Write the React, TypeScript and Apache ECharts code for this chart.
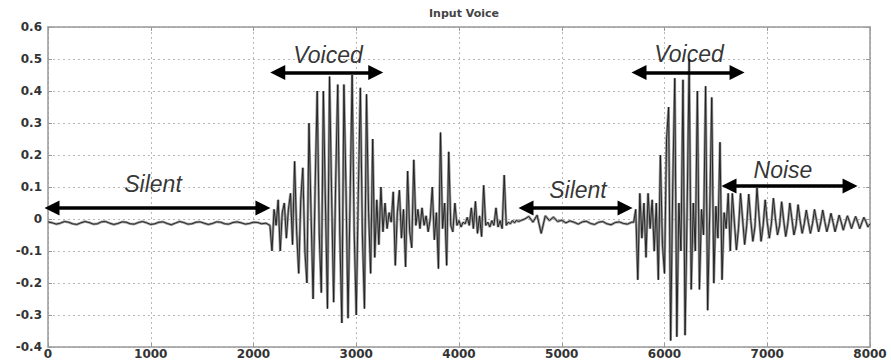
import React, { useEffect, useRef } from "react";
import * as echarts from "echarts";

// ---- Data (sample index -> amplitude) ----
// Each block: first sample index, spacing between samples, values
const SILENT_A_START = 0;
const SILENT_A_STEP = 40;
const SILENT_A = [
  -0.009, -0.012, -0.016, -0.013, -0.008, -0.010, -0.015, -0.017, -0.012, -0.008,
  -0.011, -0.016, -0.015, -0.009, -0.008, -0.013, -0.017, -0.014, -0.009, -0.010,
  -0.015, -0.016, -0.011, -0.008, -0.012, -0.017, -0.015, -0.010, -0.009, -0.014,
  -0.018, -0.013, -0.008, -0.011, -0.016, -0.015, -0.010, -0.009, -0.013, -0.017,
  -0.014, -0.009, -0.010, -0.015, -0.016, -0.011, -0.009, -0.012, -0.016, -0.014,
  -0.010, -0.011, -0.015, -0.013,
];

const VOICED_A_START = 2160;
const VOICED_A_STEP = 20;
const VOICED_A = [
  -0.02, -0.10, 0.03, -0.02, 0.06, -0.10, 0.02, 0.05, -0.06, 0.03,
  0.08, -0.08, 0.18, -0.04, -0.17, 0.06, 0.16, -0.10, -0.20, 0.30,
  0.02, -0.25, 0.10, 0.40, -0.05, -0.23, 0.40, 0.05, -0.28, 0.445,
  0.08, -0.26, 0.12, 0.42, -0.05, -0.325, 0.42, 0.10, -0.31, 0.06,
  0.45, -0.04, -0.30, 0.08, 0.41, -0.05, -0.28, 0.39, 0.02, -0.17,
  0.25, -0.12, 0.06, -0.08, 0.10, -0.04, 0.05, -0.03, 0.02, -0.01,
];

const MID_START = 3360;
const MID_STEP = 20;
const MID = [
  0.085, -0.145, 0.02, 0.09, -0.06, 0.03, -0.15, 0.15, -0.04, -0.09,
  0.185, -0.02, 0.03, -0.03, 0.035, -0.02, 0.01, -0.04, 0.0, 0.10,
  -0.065, 0.02, -0.155, 0.27, -0.03, 0.05, -0.145, 0.21, -0.02, -0.04,
  0.05, -0.02, -0.005, -0.025, -0.01, -0.015, 0.005, -0.02, 0.035, -0.03,
  0.055, -0.045, 0.01, -0.055, 0.105, -0.02, -0.01, -0.025, -0.005, -0.02,
  0.035, -0.025, -0.005, -0.03, 0.137, -0.02, -0.01, -0.015, -0.005, -0.012,
  -0.004, -0.008,
];

const SILENT_B_START = 4600;
const SILENT_B_STEP = 40;
const SILENT_B = [
  -0.005, 0.0, 0.008, -0.01, 0.012, -0.045, 0.01, -0.005, 0.006, -0.008,
  -0.004, -0.012, -0.006, -0.010, -0.016, -0.009, -0.007, -0.014, -0.017, -0.010,
  -0.008, -0.015, -0.018, -0.011, -0.009, -0.014, -0.016, -0.010,
];

const VOICED_B_START = 5700;
const VOICED_B_STEP = 20;
const VOICED_B = [
  -0.01, 0.03, -0.19, 0.08, -0.06, 0.05, -0.12, 0.08, -0.03, 0.06,
  -0.10, 0.05, -0.19, 0.20, -0.08, -0.17, 0.25, 0.35, -0.38, 0.10,
  0.44, -0.368, 0.05, -0.10, 0.435, -0.363, 0.02, 0.50, -0.22, 0.05,
  -0.10, 0.40, -0.22, 0.03, -0.05, 0.415, -0.285, 0.02, 0.38, -0.20,
  0.04, -0.06, 0.24, -0.19, 0.02, -0.03, 0.08, -0.10,
];

const NOISE_START = 6660;
const NOISE_STEP = 20;
const NOISE = [
  0.080, -0.010, -0.097, -0.030, 0.080, 0.000, -0.080, -0.020,
  0.078, -0.005, -0.070, -0.025, 0.097, 0.010, -0.070, -0.020,
  0.060, -0.010, -0.060, -0.015, 0.065, 0.000, -0.050, -0.020,
  0.054, -0.005, -0.055, -0.015, 0.050, 0.000, -0.050, -0.020,
  0.045, -0.005, -0.045, -0.015, 0.028, -0.010, -0.045, -0.015,
  0.030, -0.005, -0.040, -0.012, 0.028, -0.008, -0.040, -0.015,
  0.018, -0.010, -0.040, -0.015, 0.012, -0.010, -0.035, -0.012,
  0.010, -0.008, -0.030, -0.010, 0.008, -0.010, -0.030, -0.012,
  0.005, -0.008, -0.025, -0.015,
];

// Annotations (data coordinates)
const ARROW_FROM = [-29, 2168, 4584, 5684, 6560];
const ARROW_TO = [2160, 3258, 5684, 6774, 7874];
const ARROW_Y = [0.034, 0.458, 0.034, 0.458, 0.103];

const LABEL_TEXT = ["Silent", "Voiced", "Silent", "Voiced", "Noise"];
const LABEL_X = [1022, 2725, 5158, 6239, 7153];
const LABEL_Y = [0.11, 0.513, 0.09, 0.515, 0.153];

const X_TICKS = [0, 1000, 2000, 3000, 4000, 5000, 6000, 7000, 8000];
const TITLE = "Input Voice";

const BLOCKS = [
  [SILENT_A_START, SILENT_A_STEP, SILENT_A],
  [VOICED_A_START, VOICED_A_STEP, VOICED_A],
  [MID_START, MID_STEP, MID],
  [SILENT_B_START, SILENT_B_STEP, SILENT_B],
  [VOICED_B_START, VOICED_B_STEP, VOICED_B],
  [NOISE_START, NOISE_STEP, NOISE],
] as [number, number, number[]][];

function buildSignal(): [number, number][] {
  const out: [number, number][] = [];
  for (const [start, step, vals] of BLOCKS) {
    vals.forEach((v, i) => out.push([start + i * step, v]));
  }
  return out;
}

const HEAD_INSET = 68; // samples, so the triangle tip lands on the arrow end

export default function App() {
  const ref = useRef<HTMLDivElement>(null);
  useEffect(() => {
    if (!ref.current) return;
    const chart = echarts.init(ref.current, undefined, { renderer: "svg" });
    const signal = buildSignal();
    const axisFont = {
      fontFamily: "DejaVu Sans",
      fontSize: 12,
      fontWeight: "bold" as const,
      color: "#333",
    };
    const gridLine = { show: true, lineStyle: { color: "#b8b8b8", type: [2, 3] as any, width: 1 } };
    chart.setOption({
      animation: false,
      title: {
        text: TITLE,
        left: 459,
        textAlign: "center",
        top: 3,
        textStyle: { fontFamily: "DejaVu Sans", fontSize: 11, fontWeight: "bold", color: "#444" },
      },
      grid: { left: 48, right: 21, top: 27, bottom: 13, containLabel: false },
      xAxis: [
        {
          type: "value",
          min: X_TICKS[0],
          max: X_TICKS[X_TICKS.length - 1],
          interval: 1000,
          axisLine: { show: true, onZero: false, lineStyle: { color: "#999", width: 1.5 } },
          axisTick: { show: true, inside: true, length: 4, lineStyle: { color: "#999" } },
          axisLabel: { ...axisFont, margin: 1, formatter: (v: number) => String(v) },
          splitLine: gridLine,
        },
        {
          type: "value",
          position: "top",
          min: X_TICKS[0],
          max: X_TICKS[X_TICKS.length - 1],
          interval: 1000,
          axisLine: { show: true, onZero: false, lineStyle: { color: "#999", width: 1.5 } },
          axisTick: { show: true, inside: true, length: 4, lineStyle: { color: "#999" } },
          axisLabel: { show: false },
          splitLine: { show: false },
        },
      ],
      yAxis: [
        {
          type: "value",
          min: -0.4,
          max: 0.6,
          interval: 0.1,
          axisLine: { show: true, onZero: false, lineStyle: { color: "#999", width: 1.5 } },
          axisTick: { show: true, inside: true, length: 4, lineStyle: { color: "#999" } },
          axisLabel: {
            ...axisFont,
            margin: 6,
            formatter: (v: number) => (Math.abs(v) < 1e-9 ? "0" : v.toFixed(1)),
          },
          splitLine: gridLine,
        },
        {
          type: "value",
          position: "right",
          min: -0.4,
          max: 0.6,
          interval: 0.1,
          axisLine: { show: true, onZero: false, lineStyle: { color: "#999", width: 1.5 } },
          axisTick: { show: true, inside: true, length: 4, lineStyle: { color: "#999" } },
          axisLabel: { show: false },
          splitLine: { show: false },
        },
      ],
      series: [
        {
          type: "line",
          name: "signal-halo",
          data: signal,
          showSymbol: false,
          symbol: "none",
          lineStyle: { color: "#9a9a9a", width: 2.6 },
          silent: true,
          z: 2,
        },
        {
          type: "line",
          name: "signal",
          data: signal,
          showSymbol: false,
          symbol: "none",
          clip: false,
          lineStyle: { color: "#1a1a1a", width: 0.9 },
          silent: true,
          z: 3,
          markLine: {
            silent: true,
            animation: false,
            symbol: ["triangle", "triangle"],
            symbolSize: 15,
            label: { show: false },
            emphasis: { disabled: true },
            lineStyle: { color: "#000", width: 3.5, type: "solid" },
            data: ARROW_FROM.map((f, i) => [
              { coord: [f + HEAD_INSET, ARROW_Y[i]] },
              { coord: [ARROW_TO[i] - HEAD_INSET, ARROW_Y[i]] },
            ]),
          },
        },
        {
          type: "scatter",
          name: "labels",
          symbolSize: 1,
          itemStyle: { color: "rgba(0,0,0,0)" },
          silent: true,
          z: 5,
          data: LABEL_TEXT.map((t, i) => ({ name: t, value: [LABEL_X[i], LABEL_Y[i]] })),
          label: {
            show: true,
            position: "inside",
            formatter: "{b}",
            fontFamily: "Liberation Sans",
            fontStyle: "italic",
            fontSize: 23,
            color: "#000",
          },
        },
      ],
    });
    return () => chart.dispose();
  }, []);
  return (
    <div
      ref={ref}
      style={{ position: "absolute", left: 0, top: 0, width: 891, height: 360, background: "#fff" }}
    />
  );
}
